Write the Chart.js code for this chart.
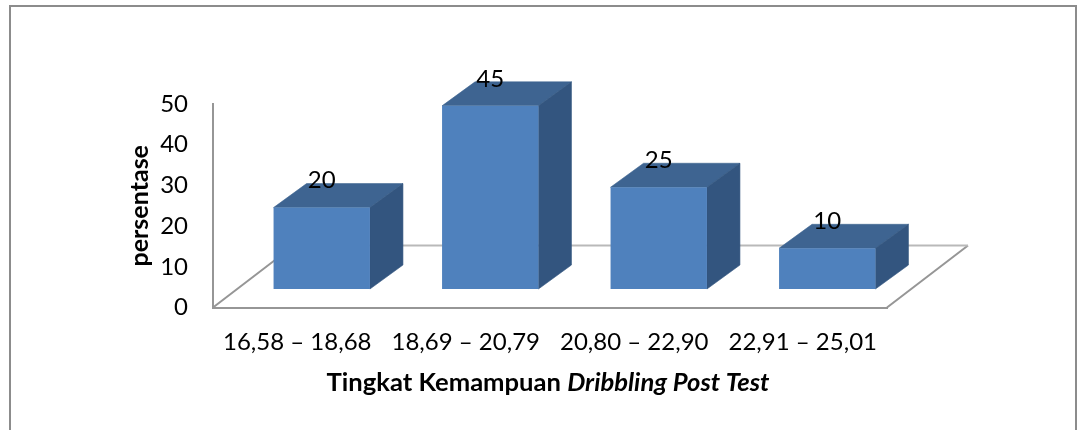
<!DOCTYPE html>
<html>
<head>
<meta charset="utf-8">
<title>Tingkat Kemampuan Dribbling Post Test</title>
<script src="https://cdn.jsdelivr.net/npm/chart.js@4"></script>
<style>
  html, body { margin: 0; padding: 0; background: #fff; overflow: hidden; }
  #wadah { width: 1078px; height: 430px; position: relative; }
</style>
</head>
<body>
<div id="wadah"><canvas id="grafik" role="img" aria-label="Tingkat Kemampuan Dribbling Post Test"></canvas></div>
<script>
// Data grafik
const kategori = ['16,58 – 18,68', '18,69 – 20,79', '20,80 – 22,90', '22,91 – 25,01'];
const persentase = [20, 45, 25, 10];
const labelSumbuY = 'persentase';
const judulTebal = 'Tingkat Kemampuan ';
const judulMiring = 'Dribbling Post Test';

const font = 'Lato, "Open Sans", sans-serif';
const warnaDepan = '#4F81BD';
const warnaAtas = '#3E6491';
const warnaSisi = '#33557F';
const warnaSumbu = '#969696';

// Geser batang supaya berdiri di tengah lantai 3D
const geserX = 24.5;
const geserY = -18.5;
// Kedalaman batang dan lantai
const dalamX = 33, dalamY = 24;
const lantaiX = 81, lantaiY = 62;

const plugin3d = {
  id: 'plugin3d',
  beforeDraw(chart) {
    const { ctx, width, height } = chart;
    ctx.save();
    ctx.fillStyle = '#fff';
    ctx.fillRect(0, 0, width, height);
    // Bingkai luar
    ctx.strokeStyle = '#8c8c8c';
    ctx.lineWidth = 2;
    ctx.strokeRect(10, 6, 1066, 600);
    ctx.restore();
  },
  beforeDatasetsDraw(chart) {
    const { ctx, chartArea: a } = chart;
    // Lantai
    ctx.save();
    ctx.lineWidth = 2;
    ctx.strokeStyle = warnaSumbu;
    ctx.beginPath();
    ctx.moveTo(a.left, a.bottom);
    ctx.lineTo(a.left + lantaiX, a.bottom - lantaiY);
    ctx.moveTo(a.right, a.bottom);
    ctx.lineTo(a.right + lantaiX, a.bottom - lantaiY);
    ctx.stroke();
    ctx.strokeStyle = '#b9b9b9';
    ctx.beginPath();
    ctx.moveTo(a.left + lantaiX, a.bottom - lantaiY);
    ctx.lineTo(a.right + lantaiX, a.bottom - lantaiY);
    ctx.stroke();
    ctx.restore();

    // Sisi dan atap batang mengikuti posisi elemen bar
    ctx.save();
    ctx.translate(geserX, geserY);
    ctx.lineWidth = 0.6;
    chart.getDatasetMeta(0).data.forEach(bar => {
      const kiri = bar.x - bar.width / 2;
      const kanan = bar.x + bar.width / 2;
      ctx.fillStyle = ctx.strokeStyle = warnaAtas;
      ctx.beginPath();
      ctx.moveTo(kiri, bar.y);
      ctx.lineTo(kiri + dalamX, bar.y - dalamY);
      ctx.lineTo(kanan + dalamX, bar.y - dalamY);
      ctx.lineTo(kanan, bar.y);
      ctx.closePath();
      ctx.fill();
      ctx.stroke();
      ctx.fillStyle = ctx.strokeStyle = warnaSisi;
      ctx.beginPath();
      ctx.moveTo(kanan, bar.y);
      ctx.lineTo(kanan + dalamX, bar.y - dalamY);
      ctx.lineTo(kanan + dalamX, bar.base - dalamY);
      ctx.lineTo(kanan, bar.base);
      ctx.closePath();
      ctx.fill();
      ctx.stroke();
    });
  },
  afterDatasetsDraw(chart) {
    const { ctx, chartArea: a } = chart;
    ctx.restore();

    // Label nilai di atas batang
    ctx.save();
    ctx.fillStyle = '#000';
    ctx.font = '24px ' + font;
    ctx.textAlign = 'center';
    ctx.textBaseline = 'middle';
    chart.getDatasetMeta(0).data.forEach((bar, i) => {
      ctx.fillText(persentase[i], bar.x + geserX, bar.y + geserY - 27);
    });

    // Judul sumbu X, sebagian miring
    ctx.font = 'bold 25.6px ' + font;
    const lebarTebal = ctx.measureText(judulTebal).width;
    ctx.font = 'italic bold 25.6px ' + font;
    const lebarMiring = ctx.measureText(judulMiring).width;
    const mulai = (a.left + a.right) / 2 - 2 - (lebarTebal + lebarMiring) / 2;
    ctx.textAlign = 'left';
    ctx.font = 'bold 25.6px ' + font;
    ctx.fillText(judulTebal, mulai, 383);
    ctx.font = 'italic bold 25.6px ' + font;
    ctx.fillText(judulMiring, mulai + lebarTebal, 383);
    ctx.restore();
  }
};

new Chart(document.getElementById('grafik').getContext('2d'), {
  type: 'bar',
  data: {
    labels: kategori,
    datasets: [{
      data: persentase,
      backgroundColor: warnaDepan,
      borderWidth: 0,
      categoryPercentage: 1,
      barPercentage: 0.572,
      clip: false
    }]
  },
  options: {
    responsive: true,
    maintainAspectRatio: false,
    animation: false,
    layout: { padding: { left: 125, right: 191, top: 104, bottom: 0 } },
    plugins: { legend: { display: false }, title: { display: false }, tooltip: { enabled: false } },
    scales: {
      x: {
        grid: { display: false, drawTicks: false },
        border: { color: warnaSumbu, width: 2 },
        ticks: { color: '#000', font: { family: font, size: 24 }, padding: 20, maxRotation: 0, autoSkip: false },
        afterFit: s => { s.height = 122.5; }
      },
      y: {
        min: 0,
        max: 50,
        grid: { display: false, drawTicks: false },
        border: { color: warnaSumbu, width: 2 },
        ticks: { stepSize: 10, color: '#000', font: { family: font, size: 24 }, padding: 25 },
        title: {
          display: true,
          text: labelSumbuY,
          color: '#000',
          font: { family: font, size: 25, weight: 'bold' },
          padding: 0
        },
        afterFit: s => { s.width = 88; }
      }
    }
  },
  plugins: [plugin3d]
});
</script>
</body>
</html>
